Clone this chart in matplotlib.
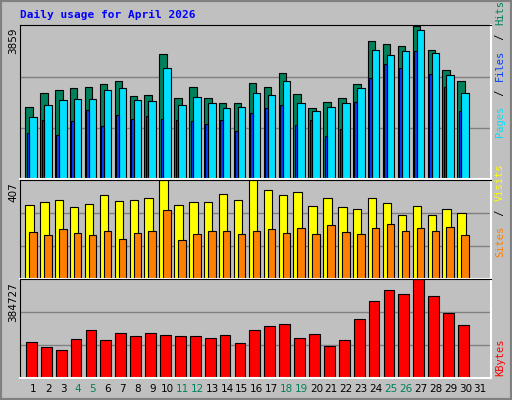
import matplotlib
matplotlib.use("Agg")
import matplotlib.pyplot as plt
import numpy as np

days = list(range(1, 32))
hits = [1807,2175,2236,2280,2307,2386,2473,2096,2122,3149,2044,2307,2044,1912,1912,2412,2307,2675,2149,1780,1938,2044,2386,3464,3385,3333,3859,3254,2754,2464]
files = [1570,1859,1991,2017,2017,2236,2280,1991,1965,2780,1859,2070,1912,1780,1807,2175,2122,2464,1912,1701,1807,1912,2280,3254,3122,3227,3754,3175,2622,2175]
pages = [1149,1491,1096,1465,1728,1333,1622,1517,1596,1517,1491,1465,1386,1491,1202,1649,1780,1859,1359,1491,1070,1254,1938,2543,2885,2780,3227,2649,2307,1701]
visits = [305,318,327,296,309,345,323,327,336,407,305,318,318,349,327,407,367,345,358,300,336,296,287,336,314,265,300,265,287,274]
sites = [194,181,207,189,181,198,167,189,198,283,163,185,198,198,185,198,207,189,212,185,221,194,185,212,229,198,212,198,216,181]
kbytes = [139500,122600,109900,152200,186000,148000,177500,164900,177500,169100,164900,164900,156400,169100,135300,186000,202900,211400,156400,173300,126800,148000,228300,300100,342400,329700,384727,321300,253600,207100]
weekend = [4,5,11,12,18,19,25,26]

BG = "#c0c0c0"
fig = plt.figure(figsize=(5.12, 4.0), dpi=100, facecolor=BG)
x = np.arange(1, len(hits) + 1)
xl = (0.107, 31.72)

def panel(rect):
    ax = fig.add_axes(rect, facecolor=BG)
    ax.set_xlim(*xl)
    for s in ("top", "left"):
        ax.spines[s].set_color("#000000")
    for s in ("bottom", "right"):
        ax.spines[s].set_color("#ffffff")
        ax.spines[s].set_linewidth(1.5)
    ax.set_xticks([]); ax.set_yticks([])
    return ax

kw = dict(align="edge", edgecolor="black", linewidth=0.8)

ax1 = panel([0.039, 0.5525, 0.92, 0.3855])
mx = max(hits)
ax1.set_ylim(0, mx * 1.005)
for f in (1/3, 2/3):
    ax1.axhline(mx * f, color="#808080", lw=1, zorder=0)
ax1.bar(x - 0.537, hits, 0.5, color="#00805c", **kw)
ax1.bar(x - 0.27, files, 0.5, color="#00e0ff", **kw)
ax1.bar(x - 0.443, pages, 0.17, color="#0040ff", **kw)

ax2 = panel([0.039, 0.3025, 0.92, 0.2465])
mv = max(visits)
ax2.set_ylim(0, mv * 1.0)
for f in (1/3, 2/3):
    ax2.axhline(mv * f, color="#808080", lw=1, zorder=0)
ax2.bar(x - 0.537, visits, 0.56, color="#ffff00", **kw)
ax2.bar(x - 0.27, sites, 0.5, color="#ff8000", **kw)

ax3 = panel([0.039, 0.055, 0.92, 0.2465])
mk = max(kbytes)
ax3.set_ylim(0, mk * 1.0)
for f in (1/3, 2/3):
    ax3.axhline(mk * f, color="#808080", lw=1, zorder=0)
ax3.bar(x - 0.49, kbytes, 0.72, color="#ff0000", **kw)
ax3.set_xticks(days)
ax3.set_xticklabels([str(d) for d in days], fontsize=7.5)
ax3.tick_params(axis="x", length=0, pad=4)
for lab, d in zip(ax3.get_xticklabels(), days):
    lab.set_color("#00805c" if d in weekend else "black")

mono = "DejaVu Sans Mono"
fig.text(20/512, 1 - 15/400, "Daily usage for April 2026", color="#0000ff",
         family=mono, weight="bold", fontsize=8, va="center", ha="left")
for txt, ytop in ((str(mx), 28), (str(mv), 182), (str(mk), 282)):
    fig.text(13/512, 1 - ytop/400, txt, rotation=90, ha="center", va="top",
             fontsize=7.5, family="DejaVu Sans")

def rlabel(parts, ybottom):
    y = ybottom
    for t, c in parts:
        tt = fig.text(500/512, 1 - y/400, t, rotation=90, ha="center", va="bottom",
                      color=c, family=mono, fontsize=7.5)
        y -= len(t) * 7.0
rlabel([("Pages", "#00e0ff"), (" / ", "#000000"), ("Files", "#0040ff"), (" / ", "#000000"), ("Hits", "#00805c")], 137)
rlabel([("Sites", "#ff8000"), (" / ", "#000000"), ("Visits", "#ffff00")], 257)
rlabel([("KBytes", "#ff0000")], 376)

fig.patches.append(plt.Rectangle((0, 0), 1, 1, transform=fig.transFigure, fill=False,
                                 edgecolor="#808080", lw=3))
fig.savefig("out.png", dpi=100, facecolor=BG)
